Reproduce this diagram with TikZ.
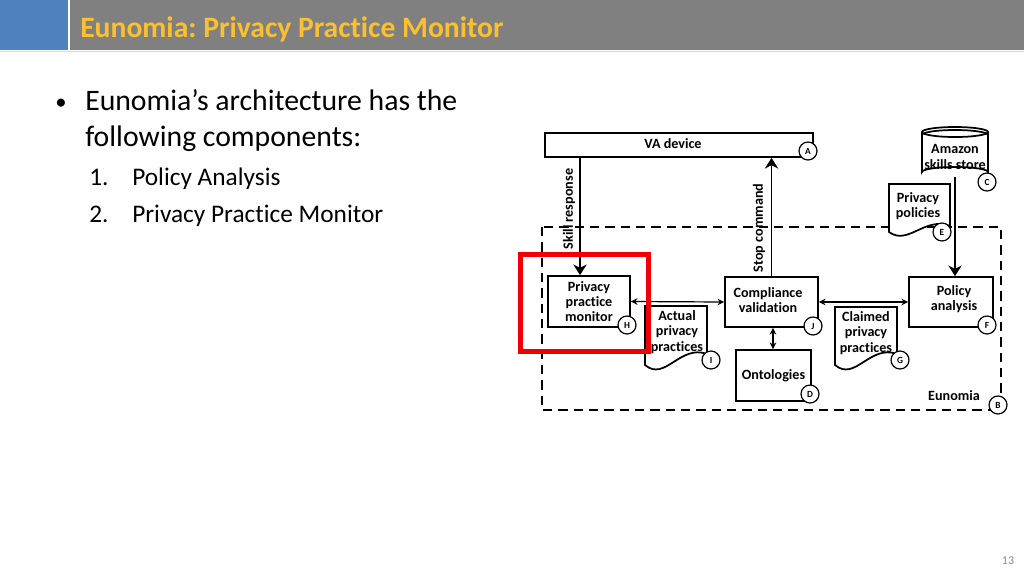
\documentclass[tikz,border=0pt]{standalone}
\usepackage{fontspec}
\setmainfont{Carlito}[RawFeature={-liga,-clig,-dlig}]
\usetikzlibrary{arrows.meta,shapes.geometric}
\definecolor{hdrblue}{RGB}{79,129,189}
\definecolor{hdrgrey}{RGB}{128,128,128}
\definecolor{ttlyellow}{RGB}{250,192,50}
\definecolor{hlred}{RGB}{240,0,0}
\definecolor{pgnum}{RGB}{140,140,140}
\frenchspacing
\begin{document}
\begin{tikzpicture}[x=0.75pt,y=-0.75pt,
  dline/.style={line width=1.3pt},
  box/.style={draw,dline,rectangle,inner sep=0pt,font=\bfseries\fontsize{10.6}{11.4}\selectfont,align=center},
  lbl/.style={draw,line width=0.9pt,circle,fill=white,inner sep=0pt,minimum size=13.5pt,font=\bfseries\fontsize{7}{7}\selectfont},
  dtext/.style={font=\bfseries\fontsize{10.6}{11.4}\selectfont,align=center},
  big/.style={dline,-{Stealth[length=8pt,width=10pt,inset=2.5pt]}},
  small/.style={line width=0.9pt,{Stealth[length=5pt,width=5pt]}-{Stealth[length=5pt,width=5pt]}},
  bodytext/.style={anchor=base west,inner sep=0pt,font=\fontsize{22.3}{26}\selectfont},
  subtext/.style={anchor=base west,inner sep=0pt,font=\fontsize{19}{22}\selectfont}
]
\useasboundingbox (0,0) rectangle (1024,576);
\fill[white] (0,0) rectangle (1024,576);
% header
\fill[hdrblue] (0,0) rectangle (68,50);
\fill[hdrgrey] (70,0) rectangle (1024,50);
\draw[line width=0.8pt,black!15] (0,51.5) -- (1024,51.5);
\node[anchor=base west,inner sep=0pt,text=ttlyellow,font=\bfseries\fontsize{22.2}{26}\selectfont] (title) at (80,37) {Eunomia: Privacy Practice Monitor};
% body text
\node[anchor=base west,inner sep=0pt,font=\fontsize{17}{20}\selectfont] (bul) at (55,109) {•};
\node[bodytext] (l1) at (85,110) {Eunomia’s architecture has the};
\node[bodytext] (l2) at (85,146) {following components:};
\node[subtext] (n1) at (89,185) {1.};
\node[subtext] (t1) at (132,185) {Policy Analysis};
\node[subtext] (n2) at (89,222) {2.};
\node[subtext] (t2) at (132,222) {Privacy Practice Monitor};
\node[anchor=center,inner sep=0pt,text=pgnum,font=\fontsize{9}{10}\selectfont] (pg) at (1008,561) {13};

% Eunomia dashed box
\draw[dline,dash pattern=on 7pt off 4.5pt] (542,227) rectangle (1001,410);
\node[dtext,anchor=center] (eun) at (954,396) {Eunomia};
\node[lbl] (lB) at (998,405) {B};

% VA device
\node[box,minimum width=268*0.75pt,minimum height=24*0.75pt] (VA) at (679,145) {};
\node[dtext] (VAt) at (673,144) {VA device};
\node[lbl] (lA) at (808,151) {A};

% Amazon skills store cylinder
\draw[dline,fill=white] (922,132) -- (922,172) arc[start angle=180,end angle=360,x radius=33,y radius=5] -- (988,132);
\draw[dline,fill=white] (955,132) ellipse[x radius=33,y radius=5];
\draw[dline] (922,135) arc[start angle=180,end angle=360,x radius=33,y radius=5];
\node[dtext] (AS) at (955,157) {Amazon\\skills store};
\coordinate (ASb) at (955,177);
\node[lbl] (lC) at (987,182) {C};

% Privacy policies doc
\draw[dline,fill=white] (889,184) -- (950,184) -- (950,226) .. controls (925,216) and (908,246) .. (889,232) -- cycle;
\node[dtext] (PP) at (918,206) {Privacy\\policies};
\node[lbl] (lE) at (942,232) {E};

% Privacy practice monitor
\node[box,minimum width=82*0.75pt,minimum height=51*0.75pt] (H) at (589,301.5) {Privacy\\practice\\monitor};
\node[lbl] (lH) at (627,325) {H};

% Compliance validation
\node[box,minimum width=93*0.75pt,minimum height=50*0.75pt] (J) at (771.5,302) {};
\node[dtext] (Jt) at (768,300) {Compliance\\validation};
\node[lbl] (lJ) at (813,326) {J};

% Policy analysis
\node[box,minimum width=84*0.75pt,minimum height=50*0.75pt] (F) at (951,302) {};
\node[dtext] (Ft) at (954,299) {Policy\\analysis};
\node[lbl] (lF) at (987,325) {F};

% Ontologies
\node[box,minimum width=75*0.75pt,minimum height=51*0.75pt] (D) at (773.5,375.5) {Ontologies};
\node[lbl] (lD) at (810,394) {D};

% Actual privacy practices doc
\draw[dline,fill=white] (645,306) -- (707,306) -- (707,354) .. controls (680,344) and (665,382) .. (645,365) -- cycle;
\node[dtext] (AP) at (677,332) {Actual\\privacy\\practices};
\node[lbl] (lI) at (711,360) {I};

% Claimed privacy practices doc
\draw[dline,fill=white] (835,307) -- (897,307) -- (897,354) .. controls (870,344) and (855,382) .. (835,365) -- cycle;
\node[dtext] (CP) at (866,333) {Claimed\\privacy\\practices};
\node[lbl] (lG) at (900,360) {G};

% connectors
\coordinate (sr) at (580,0);
\draw[big] (VA.south -| sr) -- (H.north -| sr);
\node[dtext,rotate=90] (srl) at (569,209) {Skill response};
\draw[big] (J.north) -- (VA.south -| J.north);
\node[dtext,rotate=90] (scl) at (759,228) {Stop command};
\draw[big] (ASb) -- (F.north -| ASb);
\draw[small] (H.east) -- (J.west);
\draw[small] (J.east) -- (F.west);
\coordinate (jd) at (773,0);
\draw[small] (J.south -| jd) -- (D.north -| jd);

% highlight
\draw[hlred,line width=3.75pt] (520,254) rectangle (648,351);
\end{tikzpicture}
\end{document}
